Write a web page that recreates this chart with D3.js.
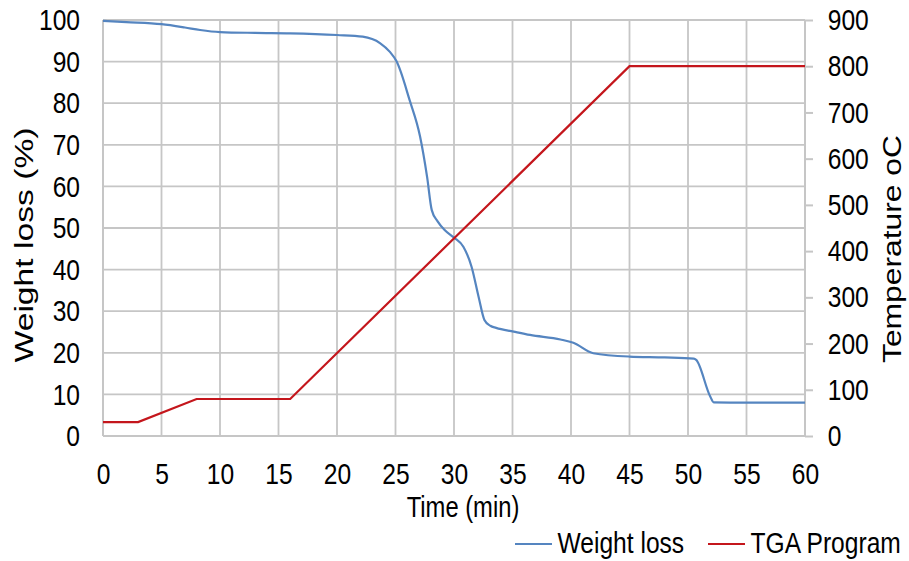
<!DOCTYPE html>
<html><head><meta charset="utf-8">
<script src="https://cdn.jsdelivr.net/npm/d3@7"></script>
<style>body{margin:0;background:#fff}svg{font-family:"Liberation Sans",Arial,sans-serif}</style>
</head><body><svg id="c" width="909" height="561"></svg>
<script>
const weightTime = [0,2,5,7,8.3,10,13,16,20,22.2,23.7,24.5,25.1,26.2,27.1,27.7,28.1,28.6,29.2,30,30.8,31.5,32.1,32.6,33.1,33.6,35.1,36.5,39.1,40.2,41.9,45,48,50.5,50.7,51.9,52.2,55,60];
const weightLoss = [99.8,99.5,99.0,98.2,97.6,97.1,96.9,96.8,96.4,96.0,94.4,92.4,90.0,80.8,72.0,62.3,54.3,51.6,49.5,47.7,45.5,40.7,33.5,27.9,26.5,26.0,25.1,24.3,23.2,22.4,19.9,19.1,18.9,18.6,18.3,9.5,8.1,8.0,8.0];
const tgaTime = [0,3,8,16,45,60];
const tgaTemp = [30,30,80,80,800,800];
const xTicks = d3.range(0,61,5);
const yTicks = d3.range(0,101,10);
const y2Ticks = d3.range(0,901,100);

const svg = d3.select("#c");
const L=103,R=805,T=20,B=436;
const SX=0.82, FS=30;
const x=d3.scaleLinear().domain([0,60]).range([L,R]);
const y=d3.scaleLinear().domain([0,100]).range([B,T]);
const y2=d3.scaleLinear().domain([0,900]).range([B,T]);
const grid="#c6c6c6";
const blue="#5585c0", red="#c4161c";
// grid
svg.append("g").selectAll("line").data(yTicks).join("line")
 .attr("x1",L).attr("x2",R).attr("y1",d=>y(d)).attr("y2",d=>y(d)).attr("stroke",grid).attr("stroke-width",1.8);
svg.append("g").selectAll("line").data(xTicks).join("line")
 .attr("x1",d=>x(d)).attr("x2",d=>x(d)).attr("y1",T).attr("y2",B).attr("stroke",grid).attr("stroke-width",1.8);
// axes
const gL=svg.append("g").attr("transform",`translate(${L},0)`).call(d3.axisLeft(y).tickValues(yTicks).tickSize(0).tickPadding(23));
const gR=svg.append("g").attr("transform",`translate(${R},0)`).call(d3.axisRight(y2).tickValues(y2Ticks).tickSize(8).tickPadding(14.7));
const gB=svg.append("g").attr("transform",`translate(0,${B})`).call(d3.axisBottom(x).tickValues(xTicks).tickSize(0).tickPadding(26.7));
[gL,gR,gB].forEach(g=>{
 g.selectAll("path").attr("stroke",grid).attr("stroke-width",2);
 g.selectAll("line").attr("stroke",grid).attr("stroke-width",2);
 g.selectAll("text").attr("font-size",FS).attr("fill","#000").attr("font-family","Liberation Sans, Arial, sans-serif")
  .each(function(){const t=d3.select(this);const tx=+t.attr("x")||0;t.attr("x",0).attr("transform",`translate(${tx},0) scale(${SX},1)`);});
});
gL.select("path").attr("d",`M0,${T}V${B}`);
gR.select("path").attr("d",`M0,${T}V${B}`);
gB.select("path").attr("d",`M${L},0H${R}`);
// lines
const lw=d3.line().x((d,i)=>x(weightTime[i])).y(d=>y(d)).curve(d3.curveMonotoneX);
svg.append("path").datum(weightLoss).attr("d",lw).attr("fill","none").attr("stroke",blue).attr("stroke-width",2.2);
const lt=d3.line().x((d,i)=>x(tgaTime[i])).y(d=>y2(d));
svg.append("path").datum(tgaTemp).attr("d",lt).attr("fill","none").attr("stroke",red).attr("stroke-width",2.2);
// titles
function htext(px,py,str,anchor,fs){
 return svg.append("text").attr("transform",`translate(${px},${py}) scale(${SX},1)`).attr("text-anchor",anchor).attr("font-size",fs||FS).text(str);
}
htext(463,517,"Time (min)","middle",29);
svg.append("text").attr("transform",`translate(33,245) scale(${SX},1) rotate(-90)`).attr("text-anchor","middle").attr("font-size",31)
 .attr("textLength",235).attr("lengthAdjust","spacingAndGlyphs").text("Weight loss (%)");
svg.append("text").attr("transform",`translate(901,249) scale(${SX},1) rotate(-90)`).attr("text-anchor","middle").attr("font-size",31)
 .attr("textLength",228).attr("lengthAdjust","spacingAndGlyphs").text("Temperature oC");
// legend
const leg=[{n:"Weight loss",c:blue,x:515},{n:"TGA Program",c:red,x:708}];
leg.forEach(l=>{svg.append("line").attr("x1",l.x).attr("x2",l.x+37).attr("y1",544).attr("y2",544).attr("stroke",l.c).attr("stroke-width",2.2);
 htext(l.x+42.5,553,l.n,"start");});
</script></body></html>
